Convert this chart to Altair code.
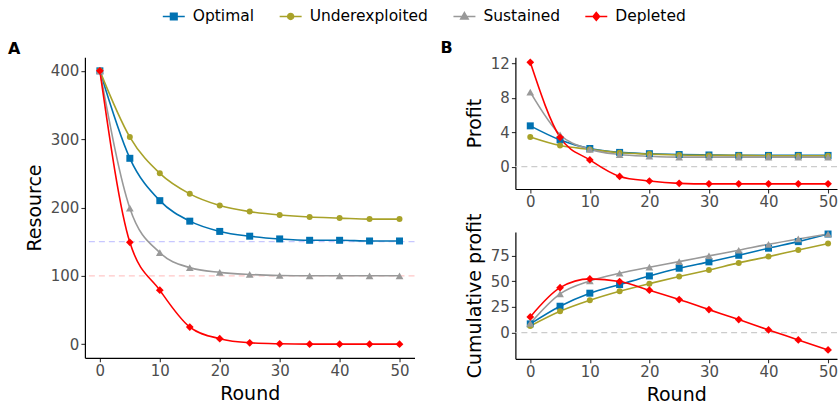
import altair as alt
import pandas as pd

# ---------------- data ----------------
rounds = [0, 5, 10, 15, 20, 25, 30, 35, 40, 45, 50]
strategies = ["Optimal", "Underexploited", "Sustained", "Depleted"]

resource_optimal = [400, 272, 210, 180, 165, 158, 154, 152, 152, 151, 151]
resource_underexploited = [400, 303, 250, 220, 203, 194, 189, 186, 184.5, 183, 183]
resource_sustained = [400, 199, 134, 112, 105, 102, 100.5, 100, 100, 100, 100]
resource_depleted = [400, 149, 79, 25, 8, 2, 0.5, 0, 0, 0, 0]

profit_optimal = [4.73, 3.1, 2.1, 1.65, 1.5, 1.4, 1.35, 1.3, 1.3, 1.3, 1.3]
profit_underexploited = [3.43, 2.44, 2.0, 1.6, 1.45, 1.35, 1.3, 1.3, 1.25, 1.25, 1.25]
profit_sustained = [8.65, 3.7, 2.0, 1.4, 1.2, 1.1, 1.1, 1.1, 1.1, 1.1, 1.1]
profit_depleted = [12.1, 3.4, 0.77, -1.14, -1.67, -1.94, -2.0, -2.0, -2.0, -2.0, -2.0]

cumprofit_optimal = [8.5, 25.7, 38.4, 46.8, 55.2, 62.7, 68.9, 75.3, 82.2, 88.6, 96]
cumprofit_underexploited = [6.5, 20.8, 31.5, 40.3, 47.7, 54.6, 61, 67.9, 74, 80.5, 86.7]
cumprofit_sustained = [9, 37.7, 50.3, 57.8, 63.7, 69.1, 74.7, 80.2, 86, 91.2, 96]
cumprofit_depleted = [15.3, 43.8, 52.3, 49.7, 41.3, 32.2, 22.4, 12.7, 2.6, -7.1, -16.9]

resource_refs = [150, 100]
x_ticks = [0, 10, 20, 30, 40, 50]
resource_ticks = [0, 100, 200, 300, 400]
profit_ticks = [0, 4, 8, 12]
cumprofit_ticks = [0, 25, 50, 75]

# ---------------- styles ----------------
colors = ["#0072B2", "#A8A229", "#999999", "#FF0000"]
marker_shapes = ["square", "circle", "triangle-up", "diamond"]
marker_sizes = [49, 36, 60, 60]
ref_colors = ["#c8c8ff", "#ffc8c8"]
legend_symbols = [
    "M-1,0H1M-0.3,-0.3H0.3V0.3H-0.3Z",
    "M-1,0H1M0.27,0A0.27,0.27,0,1,1,-0.27,0A0.27,0.27,0,1,1,0.27,0Z",
    "M-1,0H1M0,-0.36L0.34,0.22H-0.34Z",
    "M-1,0H1M0,-0.36L0.3,0L0,0.36L-0.3,0Z",
]
FONT = "DejaVu Sans"

res_series = [resource_optimal, resource_underexploited, resource_sustained, resource_depleted]
pro_series = [profit_optimal, profit_underexploited, profit_sustained, profit_depleted]
cum_series = [cumprofit_optimal, cumprofit_underexploited, cumprofit_sustained, cumprofit_depleted]

rows = []
for s, rs, ps, cs in zip(strategies, res_series, pro_series, cum_series):
    for r, a, b, c in zip(rounds, rs, ps, cs):
        rows.append({"Round": r, "Strategy": s, "Key": s,
                     "Resource": a, "Profit": b, "Cumulative": c})
df = pd.DataFrame(rows)


def top_legend():
    return alt.Legend(title=None, orient="none", legendX=77, legendY=-53,
                      direction="horizontal", symbolOpacity=1)


def panel(measure, ytitle, ydom, yticks, xdom, xtitle, w, h, refs, ref_cols,
          title_text, title_dx, with_legend=False):
    x = alt.X("Round:Q", scale=alt.Scale(domain=xdom, nice=False, zero=False),
              axis=alt.Axis(values=x_ticks, title=xtitle))
    y = alt.Y(f"{measure}:Q", scale=alt.Scale(domain=ydom, nice=False, zero=False),
              axis=alt.Axis(values=yticks, title=ytitle))
    layers = []
    ref_df = pd.DataFrame({measure: refs, "i": list(range(len(refs)))})
    for i, col in enumerate(ref_cols):
        layers.append(
            alt.Chart(ref_df).transform_filter(alt.datum.i == i)
            .mark_rule(strokeDash=[6, 4], strokeWidth=1.2, color=col)
            .encode(y=y)
        )
    for s, col in zip(strategies, colors):
        layers.append(
            alt.Chart(df).transform_filter(alt.datum.Strategy == s)
            .mark_line(interpolate="monotone", strokeWidth=1.6, color=col)
            .encode(x=x, y=y)
        )
    for s, col, shp, sz in zip(strategies, colors, marker_shapes, marker_sizes):
        layers.append(
            alt.Chart(df).transform_filter(alt.datum.Strategy == s)
            .mark_point(shape=shp, size=sz, filled=True, opacity=1, color=col)
            .encode(x=x, y=y)
        )
    if with_legend:
        layers.append(
            alt.Chart(df).mark_point(filled=True, size=484, strokeWidth=1.5, opacity=1, clip=True)
            .encode(
                x=alt.value(-600), y=alt.value(-600),
                fill=alt.Fill("Key:N", scale=alt.Scale(domain=strategies, range=colors),
                              legend=top_legend()),
                stroke=alt.Stroke("Key:N", scale=alt.Scale(domain=strategies, range=colors),
                                  legend=top_legend()),
                shape=alt.Shape("Key:N", scale=alt.Scale(domain=strategies, range=legend_symbols),
                                legend=top_legend()),
            )
        )
    props = dict(width=w, height=h)
    if title_text:
        props["title"] = alt.TitleParams(title_text, anchor="start", frame="group",
                                         fontSize=16, fontWeight="bold", font=FONT,
                                         color="black", dx=title_dx, offset=0)
    return alt.layer(*layers).properties(**props)


chart_a = panel("Resource", "Resource", [-20, 420], resource_ticks, [-2.5, 52.5], "Round",
                330, 301, resource_refs, ref_colors, "A", -77, with_legend=True)
chart_p = panel("Profit", "Profit", [-2.6, 12.7], profit_ticks, [-2.5, 51.5], None,
                322, 132, [0], ["#cccccc"], "B", -75)
chart_c = panel("Cumulative", "Cumulative profit", [-25.5, 98], cumprofit_ticks, [-2.5, 51.5],
                "Round", 322, 127, [0], ["#cccccc"], None, 0)

right = alt.vconcat(chart_p, chart_c, spacing=43, bounds="flush")
chart = alt.hconcat(chart_a, right, spacing=101, bounds="flush").properties(
    padding={"left": 8, "top": 4, "right": 1, "bottom": 4}
).configure_view(strokeWidth=0).configure_axis(
    grid=False, labelFont=FONT, titleFont=FONT, labelFontSize=15, labelColor="#4d4d4d",
    titleFontSize=19, titleFontWeight="normal", titleColor="black",
    domainColor="black", domainWidth=1.2, tickColor="#333333", tickSize=4, tickWidth=1.1,
    labelPadding=2, titlePadding=6,
).configure_legend(
    labelFont=FONT, labelFontSize=15.5, labelColor="black", labelOffset=7,
    symbolSize=484, symbolStrokeWidth=1.5, columnPadding=22, padding=0, symbolOpacity=1,
)

chart.save("out.html", embed_options={"renderer": "svg", "actions": False})
